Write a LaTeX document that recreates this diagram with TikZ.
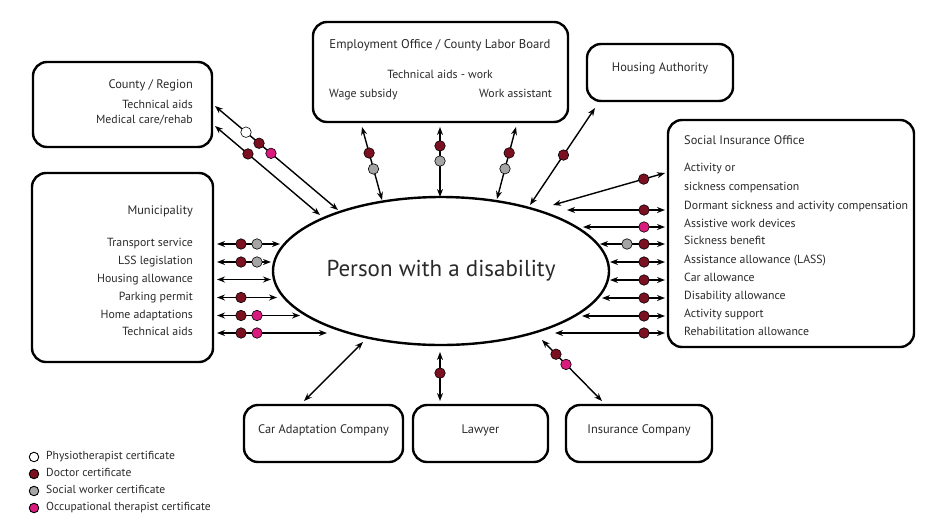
\documentclass[tikz,border=0pt]{standalone}
\usepackage{fontspec}
\setmainfont{PT Sans}
\usetikzlibrary{arrows.meta,shapes.geometric}
\definecolor{docred}{HTML}{7B1020}
\definecolor{swgray}{HTML}{A5A5A5}
\definecolor{otpink}{HTML}{D81B7D}
\definecolor{txt}{HTML}{2A2A2A}
\begin{document}
\begin{tikzpicture}[x=1pt,y=-1pt,
  box/.style={draw, line width=2.4pt, rounded corners=14pt, inner sep=0pt},
  lbl/.style={inner sep=0pt, text height=8.5pt, text depth=2.7pt, text=txt, font=\fontsize{11.8}{14}\selectfont},
  hdr/.style={lbl, font=\fontsize{12.4}{14}\selectfont},
  conn/.style={{Stealth[length=8pt,width=6pt]}-{Stealth[length=8pt,width=6pt]}, line width=1.4pt},
  dot/.style={circle, draw, line width=0.6pt, minimum size=10.5pt, inner sep=0pt},
  dr/.style={dot, fill=docred},
  gy/.style={dot, fill=swgray},
  pk/.style={dot, fill=otpink},
  wh/.style={dot, fill=white},
  leg/.style={circle, draw, line width=0.9pt, minimum size=9.5pt, inner sep=0pt},
  legtxt/.style={lbl, font=\fontsize{11.6}{13}\selectfont}]
\useasboundingbox (0,0) rectangle (941,528);
\fill[white] (0,0) rectangle (941,528);

% central ellipse
\node[ellipse, draw, line width=2.4pt, minimum width=336pt, minimum height=148pt, inner sep=0pt,
      font=\fontsize{23}{27}\selectfont, text=txt] (person) at (441,271) {Person with a disability};

% boxes
\node[box, minimum width=179pt, minimum height=85pt] (county) at (122.5,104.5) {};
\node[box, minimum width=181pt, minimum height=189pt] (mun) at (122.5,267.5) {};
\node[box, minimum width=255pt, minimum height=100pt] (emp) at (440.5,72) {};
\node[box, minimum width=146pt, minimum height=57pt] (house) at (660,72.5) {};
\node[box, minimum width=246pt, minimum height=227pt] (soc) at (791,233.5) {};
\node[box, minimum width=159pt, minimum height=57pt] (car) at (323.5,433.5) {};
\node[box, minimum width=135pt, minimum height=57pt] (law) at (480.5,433.5) {};
\node[box, minimum width=146pt, minimum height=57pt] (ins) at (639,433.5) {};

% box texts
\node[hdr, anchor=east] (countyh) at (193,86) {County / Region};
\node[lbl, anchor=east] (county1) at (193,106) {Technical aids};
\node[lbl, anchor=east] (county2) at (193,121) {Medical care/rehab};

\node[hdr, anchor=east] (munh) at (193,212) {Municipality};
\node[lbl, anchor=east] (mun1) at (193,244) {Transport service};
\node[lbl, anchor=east] (mun2) at (193,262) {LSS legislation};
\node[lbl, anchor=east] (mun3) at (193,279.5) {Housing allowance};
\node[lbl, anchor=east] (mun4) at (193,297.5) {Parking permit};
\node[lbl, anchor=east] (mun5) at (193,315.5) {Home adaptations};
\node[lbl, anchor=east] (mun6) at (193,333) {Technical aids};

\node[hdr, font=\fontsize{12.7}{14}\selectfont] (emph) at (440,46) {Employment Office / County Labor Board};
\node[lbl] (emp1) at (440,76) {Technical aids - work};
\node[lbl, anchor=west] (emp2) at (329,95) {Wage subsidy};
\node[lbl, anchor=east] (emp3) at (552,95) {Work assistant};

\node[hdr] (househ) at (660,69) {Housing Authority};

\node[hdr, anchor=west] (soch) at (684,142) {Social Insurance Office};
\node[lbl, anchor=west] (soc0a) at (684,169) {Activity or};
\node[lbl, anchor=west] (soc0b) at (684,187.5) {sickness compensation};
\node[lbl, anchor=west] (soc1) at (684,207) {Dormant sickness and activity compensation};
\node[lbl, anchor=west] (soc2) at (684,224.5) {Assistive work devices};
\node[lbl, anchor=west] (soc3) at (684,242) {Sickness benefit};
\node[lbl, anchor=west] (soc4) at (684,260.5) {Assistance allowance (LASS)};
\node[lbl, anchor=west] (soc5) at (684,278.5) {Car allowance};
\node[lbl, anchor=west] (soc6) at (684,296.5) {Disability allowance};
\node[lbl, anchor=west] (soc7) at (684,314.5) {Activity support};
\node[lbl, anchor=west] (soc8) at (684,332.5) {Rehabilitation allowance};

\node[hdr] (carh) at (323.5,431) {Car Adaptation Company};
\node[hdr] (lawh) at (480.5,431) {Lawyer};
\node[hdr] (insh) at (639,431) {Insurance Company};

% connector end points
\coordinate (c1a) at (215,106); \coordinate (c1b) at (338,210);
\coordinate (c2a) at (215,126); \coordinate (c2b) at (320,215);
\coordinate (e1a) at (362,127); \coordinate (e1b) at (382,200);
\coordinate (e2a) at (440,127); \coordinate (e2b) at (440,197);
\coordinate (e3a) at (516,127); \coordinate (e3b) at (497,199);
\coordinate (h1a) at (595,108); \coordinate (h1b) at (530,205);
\coordinate (s0a) at (665,173); \coordinate (s0b) at (553,205);
\coordinate (b1a) at (363,342); \coordinate (b1b) at (304,401);
\coordinate (b2a) at (440,352); \coordinate (b2b) at (440,401);
\coordinate (b3a) at (542,340); \coordinate (b3b) at (602,401);

% County / Region
\draw[conn] (c1a) -- (c1b)
  node[wh, pos=0.252] (c1w) {} node[dr, pos=0.358] (c1d) {} node[pk, pos=0.455] (c1p) {};
\draw[conn] (c2a) -- (c2b) node[dr, pos=0.314] (c2d) {};

% Employment office
\draw[conn] (e1a) -- (e1b) node[dr, pos=0.356] (e1d) {} node[gy, pos=0.575] (e1g) {};
\draw[conn] (e2a) -- (e2b) node[dr, pos=0.27] (e2d) {} node[gy, pos=0.486] (e2g) {};
\draw[conn] (e3a) -- (e3b) node[dr, pos=0.36] (e3d) {} node[gy, pos=0.58] (e3g) {};

% Housing authority
\draw[conn] (h1a) -- (h1b) node[dr, pos=0.485] (h1d) {};

% Social insurance office
\draw[conn] (s0a) -- (s0b) node[dr, pos=0.19] (s0d) {};
\foreach \i/\y/\xl in {1/210/567, 2/227/583, 3/244/600, 4/262/610, 5/280/610, 6/298/602, 7/316/582, 8/333/555}{
  \coordinate (sl\i) at (\xl,\y);
  \coordinate (sr\i) at (665,\y);
  \draw[conn] (sl\i) -- (sr\i);
}
\node[dr] (s1d) at (644,210) {};
\node[pk] (s2p) at (644,227) {};
\node[gy] (s3g) at (627,244) {};
\node[dr] (s3d) at (644,244) {};
\node[dr] (s4d) at (644,262) {};
\node[dr] (s5d) at (644,280) {};
\node[dr] (s6d) at (644,298) {};
\node[dr] (s7d) at (644,316) {};
\node[dr] (s8d) at (644,333) {};

% Municipality
\foreach \i/\y/\xr in {1/244/280, 2/262/271, 3/279.5/271, 4/297.5/277, 5/315.5/300, 6/333/327}{
  \coordinate (ml\i) at (217,\y);
  \coordinate (mr\i) at (\xr,\y);
  \draw[conn] (ml\i) -- (mr\i);
}
\node[dr] (m1d) at (241,244) {};
\node[gy] (m1g) at (257,244) {};
\node[dr] (m2d) at (241,262) {};
\node[gy] (m2g) at (257,262) {};
\node[dr] (m4d) at (241,297.5) {};
\node[dr] (m5d) at (241,315.5) {};
\node[pk] (m5p) at (257,315.5) {};
\node[dr] (m6d) at (241,333) {};
\node[pk] (m6p) at (257,333) {};

% Bottom companies
\draw[conn] (b1a) -- (b1b);
\draw[conn] (b2a) -- (b2b) node[dr, pos=0.43] (b2d) {};
\draw[conn] (b3a) -- (b3b) node[dr, pos=0.233] (b3d) {} node[pk, pos=0.4] (b3p) {};

% Legend
\node[leg, fill=white] (l1) at (34,457) {};
\node[leg, fill=docred] (l2) at (34,474) {};
\node[leg, fill=swgray] (l3) at (34,491) {};
\node[leg, fill=otpink] (l4) at (34,508) {};
\node[legtxt, anchor=west] (l1t) at (46,457) {Physiotherapist certificate};
\node[legtxt, anchor=west] (l2t) at (46,474) {Doctor certificate};
\node[legtxt, anchor=west] (l3t) at (46,491) {Social worker certificate};
\node[legtxt, anchor=west] (l4t) at (46,508) {Occupational therapist certificate};
\end{tikzpicture}
\end{document}
